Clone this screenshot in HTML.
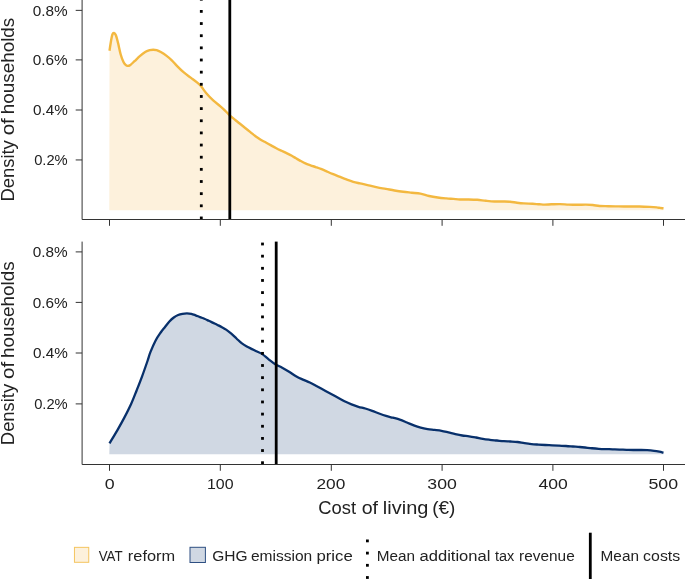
<!DOCTYPE html>
<html><head><meta charset="utf-8"><title>chart</title>
<style>
html,body{margin:0;padding:0;background:#fff;}
body{width:685px;height:579px;overflow:hidden;font-family:"Liberation Sans",sans-serif;}
svg{display:block;font-family:"Liberation Sans",sans-serif;will-change:transform;}
</style></head><body>
<svg width="685" height="579" viewBox="0 0 685 579">
<rect width="685" height="579" fill="#ffffff"/>
<path d="M109.50 50.70 C109.76 49.03 110.57 43.40 111.05 40.70 C111.53 38.00 111.92 35.78 112.40 34.50 C112.88 33.22 113.37 32.88 113.95 33.00 C114.53 33.12 115.23 33.57 115.90 35.20 C116.58 36.83 117.20 39.58 118.00 42.80 C118.80 46.02 119.78 51.28 120.70 54.50 C121.62 57.72 122.68 60.37 123.50 62.10 C124.32 63.83 124.92 64.27 125.60 64.90 C126.28 65.53 126.80 65.90 127.60 65.90 C128.40 65.90 129.25 65.68 130.40 64.90 C131.55 64.12 132.88 62.70 134.50 61.20 C136.12 59.70 138.25 57.47 140.10 55.90 C141.95 54.33 144.00 52.77 145.60 51.80 C147.20 50.83 148.43 50.45 149.70 50.10 C150.97 49.75 152.05 49.70 153.20 49.70 C154.35 49.70 155.33 49.71 156.60 50.10 C157.87 50.49 159.18 51.13 160.80 52.05 C162.42 52.97 164.47 54.23 166.30 55.60 C168.13 56.98 170.03 58.58 171.80 60.30 C173.57 62.02 174.90 63.88 176.90 65.90 C178.90 67.93 181.50 70.50 183.80 72.45 C186.10 74.40 188.40 75.88 190.70 77.60 C193.00 79.32 195.87 81.35 197.60 82.80 C199.33 84.25 199.65 84.57 201.10 86.30 C202.55 88.03 204.28 90.85 206.30 93.20 C208.32 95.55 210.90 98.25 213.20 100.40 C215.50 102.55 218.08 104.37 220.10 106.10 C222.12 107.83 223.72 109.27 225.30 110.80 C226.88 112.33 227.88 113.73 229.60 115.30 C231.32 116.87 233.87 118.78 235.60 120.20 C237.33 121.62 238.40 122.51 240.00 123.80 C241.60 125.09 243.47 126.57 245.20 127.95 C246.93 129.33 248.68 130.72 250.40 132.10 C252.12 133.47 253.78 134.93 255.50 136.20 C257.22 137.47 258.97 138.65 260.70 139.70 C262.43 140.75 264.17 141.55 265.90 142.50 C267.63 143.45 269.37 144.45 271.10 145.40 C272.83 146.35 274.57 147.31 276.30 148.20 C278.03 149.09 279.78 149.92 281.50 150.75 C283.22 151.58 284.88 152.36 286.60 153.20 C288.32 154.04 290.23 154.95 291.80 155.80 C293.37 156.65 294.63 157.50 296.00 158.30 C297.37 159.10 298.43 159.75 300.00 160.60 C301.57 161.45 303.65 162.62 305.40 163.40 C307.15 164.18 308.78 164.69 310.50 165.30 C312.22 165.91 313.97 166.45 315.70 167.05 C317.43 167.65 319.25 168.26 320.90 168.90 C322.55 169.54 323.67 170.07 325.60 170.90 C327.53 171.73 330.20 172.94 332.50 173.90 C334.80 174.86 337.08 175.73 339.40 176.65 C341.72 177.57 344.08 178.54 346.40 179.40 C348.72 180.26 351.03 181.13 353.30 181.80 C355.57 182.47 357.45 182.82 360.00 183.40 C362.55 183.98 365.72 184.63 368.60 185.30 C371.48 185.97 374.42 186.80 377.30 187.40 C380.18 188.00 383.03 188.38 385.90 188.90 C388.77 189.42 391.62 190.02 394.50 190.50 C397.38 190.98 400.32 191.43 403.20 191.80 C406.08 192.17 408.93 192.40 411.80 192.70 C414.67 193.00 417.52 193.05 420.40 193.60 C423.28 194.15 426.22 195.35 429.10 196.00 C431.98 196.65 434.82 197.10 437.70 197.50 C440.58 197.90 443.80 198.17 446.40 198.40 C449.00 198.63 451.03 198.73 453.30 198.90 C455.57 199.07 457.45 199.36 460.00 199.45 C462.55 199.54 465.72 199.39 468.60 199.45 C471.48 199.51 474.42 199.58 477.30 199.80 C480.18 200.03 483.03 200.52 485.90 200.80 C488.77 201.08 491.62 201.38 494.50 201.50 C497.38 201.62 500.60 201.47 503.20 201.50 C505.80 201.53 507.80 201.50 510.10 201.70 C512.40 201.90 514.70 202.42 517.00 202.70 C519.30 202.98 521.32 203.22 523.90 203.40 C526.48 203.58 529.92 203.65 532.50 203.80 C535.08 203.95 537.38 204.17 539.40 204.30 C541.42 204.43 542.58 204.60 544.60 204.60 C546.62 204.60 548.93 204.38 551.50 204.30 C554.07 204.22 557.15 204.05 560.00 204.10 C562.85 204.15 565.72 204.48 568.60 204.60 C571.48 204.72 574.42 204.80 577.30 204.80 C580.18 204.80 583.32 204.57 585.90 204.60 C588.48 204.63 590.50 204.77 592.80 205.00 C595.10 205.23 597.10 205.80 599.70 206.00 C602.30 206.20 605.23 206.13 608.40 206.20 C611.57 206.27 615.25 206.35 618.70 206.40 C622.15 206.45 625.65 206.48 629.10 206.50 C632.55 206.52 635.95 206.43 639.40 206.50 C642.85 206.57 646.92 206.75 649.80 206.90 C652.68 207.05 655.00 207.23 656.70 207.40 C658.40 207.57 658.87 207.75 660.00 207.90 C661.13 208.05 662.92 208.23 663.50 208.30 L663.50 210.20 L109.30 210.20 Z" fill="#FDF1DC" stroke="none"/>
<path d="M109.50 50.70 C109.76 49.03 110.57 43.40 111.05 40.70 C111.53 38.00 111.92 35.78 112.40 34.50 C112.88 33.22 113.37 32.88 113.95 33.00 C114.53 33.12 115.23 33.57 115.90 35.20 C116.58 36.83 117.20 39.58 118.00 42.80 C118.80 46.02 119.78 51.28 120.70 54.50 C121.62 57.72 122.68 60.37 123.50 62.10 C124.32 63.83 124.92 64.27 125.60 64.90 C126.28 65.53 126.80 65.90 127.60 65.90 C128.40 65.90 129.25 65.68 130.40 64.90 C131.55 64.12 132.88 62.70 134.50 61.20 C136.12 59.70 138.25 57.47 140.10 55.90 C141.95 54.33 144.00 52.77 145.60 51.80 C147.20 50.83 148.43 50.45 149.70 50.10 C150.97 49.75 152.05 49.70 153.20 49.70 C154.35 49.70 155.33 49.71 156.60 50.10 C157.87 50.49 159.18 51.13 160.80 52.05 C162.42 52.97 164.47 54.23 166.30 55.60 C168.13 56.98 170.03 58.58 171.80 60.30 C173.57 62.02 174.90 63.88 176.90 65.90 C178.90 67.93 181.50 70.50 183.80 72.45 C186.10 74.40 188.40 75.88 190.70 77.60 C193.00 79.32 195.87 81.35 197.60 82.80 C199.33 84.25 199.65 84.57 201.10 86.30 C202.55 88.03 204.28 90.85 206.30 93.20 C208.32 95.55 210.90 98.25 213.20 100.40 C215.50 102.55 218.08 104.37 220.10 106.10 C222.12 107.83 223.72 109.27 225.30 110.80 C226.88 112.33 227.88 113.73 229.60 115.30 C231.32 116.87 233.87 118.78 235.60 120.20 C237.33 121.62 238.40 122.51 240.00 123.80 C241.60 125.09 243.47 126.57 245.20 127.95 C246.93 129.33 248.68 130.72 250.40 132.10 C252.12 133.47 253.78 134.93 255.50 136.20 C257.22 137.47 258.97 138.65 260.70 139.70 C262.43 140.75 264.17 141.55 265.90 142.50 C267.63 143.45 269.37 144.45 271.10 145.40 C272.83 146.35 274.57 147.31 276.30 148.20 C278.03 149.09 279.78 149.92 281.50 150.75 C283.22 151.58 284.88 152.36 286.60 153.20 C288.32 154.04 290.23 154.95 291.80 155.80 C293.37 156.65 294.63 157.50 296.00 158.30 C297.37 159.10 298.43 159.75 300.00 160.60 C301.57 161.45 303.65 162.62 305.40 163.40 C307.15 164.18 308.78 164.69 310.50 165.30 C312.22 165.91 313.97 166.45 315.70 167.05 C317.43 167.65 319.25 168.26 320.90 168.90 C322.55 169.54 323.67 170.07 325.60 170.90 C327.53 171.73 330.20 172.94 332.50 173.90 C334.80 174.86 337.08 175.73 339.40 176.65 C341.72 177.57 344.08 178.54 346.40 179.40 C348.72 180.26 351.03 181.13 353.30 181.80 C355.57 182.47 357.45 182.82 360.00 183.40 C362.55 183.98 365.72 184.63 368.60 185.30 C371.48 185.97 374.42 186.80 377.30 187.40 C380.18 188.00 383.03 188.38 385.90 188.90 C388.77 189.42 391.62 190.02 394.50 190.50 C397.38 190.98 400.32 191.43 403.20 191.80 C406.08 192.17 408.93 192.40 411.80 192.70 C414.67 193.00 417.52 193.05 420.40 193.60 C423.28 194.15 426.22 195.35 429.10 196.00 C431.98 196.65 434.82 197.10 437.70 197.50 C440.58 197.90 443.80 198.17 446.40 198.40 C449.00 198.63 451.03 198.73 453.30 198.90 C455.57 199.07 457.45 199.36 460.00 199.45 C462.55 199.54 465.72 199.39 468.60 199.45 C471.48 199.51 474.42 199.58 477.30 199.80 C480.18 200.03 483.03 200.52 485.90 200.80 C488.77 201.08 491.62 201.38 494.50 201.50 C497.38 201.62 500.60 201.47 503.20 201.50 C505.80 201.53 507.80 201.50 510.10 201.70 C512.40 201.90 514.70 202.42 517.00 202.70 C519.30 202.98 521.32 203.22 523.90 203.40 C526.48 203.58 529.92 203.65 532.50 203.80 C535.08 203.95 537.38 204.17 539.40 204.30 C541.42 204.43 542.58 204.60 544.60 204.60 C546.62 204.60 548.93 204.38 551.50 204.30 C554.07 204.22 557.15 204.05 560.00 204.10 C562.85 204.15 565.72 204.48 568.60 204.60 C571.48 204.72 574.42 204.80 577.30 204.80 C580.18 204.80 583.32 204.57 585.90 204.60 C588.48 204.63 590.50 204.77 592.80 205.00 C595.10 205.23 597.10 205.80 599.70 206.00 C602.30 206.20 605.23 206.13 608.40 206.20 C611.57 206.27 615.25 206.35 618.70 206.40 C622.15 206.45 625.65 206.48 629.10 206.50 C632.55 206.52 635.95 206.43 639.40 206.50 C642.85 206.57 646.92 206.75 649.80 206.90 C652.68 207.05 655.00 207.23 656.70 207.40 C658.40 207.57 658.87 207.75 660.00 207.90 C661.13 208.05 662.92 208.23 663.50 208.30" fill="none" stroke="#F3B840" stroke-width="2.4" stroke-linejoin="round" stroke-linecap="butt"/>
<g fill="#000"><rect x="199.90" y="-2.15" width="2.80" height="2.80"/><rect x="199.90" y="10.00" width="2.80" height="2.80"/><rect x="199.90" y="22.15" width="2.80" height="2.80"/><rect x="199.90" y="34.30" width="2.80" height="2.80"/><rect x="199.90" y="46.45" width="2.80" height="2.80"/><rect x="199.90" y="58.60" width="2.80" height="2.80"/><rect x="199.90" y="70.75" width="2.80" height="2.80"/><rect x="199.90" y="82.90" width="2.80" height="2.80"/><rect x="199.90" y="95.05" width="2.80" height="2.80"/><rect x="199.90" y="107.20" width="2.80" height="2.80"/><rect x="199.90" y="119.35" width="2.80" height="2.80"/><rect x="199.90" y="131.50" width="2.80" height="2.80"/><rect x="199.90" y="143.65" width="2.80" height="2.80"/><rect x="199.90" y="155.80" width="2.80" height="2.80"/><rect x="199.90" y="167.95" width="2.80" height="2.80"/><rect x="199.90" y="180.10" width="2.80" height="2.80"/><rect x="199.90" y="192.25" width="2.80" height="2.80"/><rect x="199.90" y="204.40" width="2.80" height="2.80"/><rect x="199.90" y="216.55" width="2.80" height="2.80"/></g>
<line x1="229.8" x2="229.8" y1="-2" y2="219.5" stroke="#000" stroke-width="2.8"/>
<path d="M109.50 443.30 C110.80 441.13 114.85 434.53 117.30 430.30 C119.75 426.07 121.90 422.28 124.20 417.90 C126.50 413.52 129.03 408.57 131.10 404.00 C133.17 399.43 134.78 395.07 136.60 390.50 C138.42 385.93 140.18 381.52 142.00 376.60 C143.82 371.68 146.10 365.07 147.50 361.00 C148.90 356.93 149.07 355.58 150.40 352.20 C151.73 348.82 153.78 343.98 155.50 340.70 C157.22 337.42 159.12 334.78 160.70 332.50 C162.28 330.22 163.55 328.83 165.00 327.00 C166.45 325.17 167.93 323.08 169.40 321.50 C170.87 319.92 172.35 318.57 173.80 317.50 C175.25 316.43 176.65 315.67 178.10 315.05 C179.55 314.43 181.03 314.08 182.50 313.80 C183.97 313.52 185.43 313.40 186.90 313.40 C188.37 313.40 189.85 313.48 191.30 313.80 C192.75 314.12 194.15 314.75 195.60 315.30 C197.05 315.85 198.53 316.52 200.00 317.10 C201.47 317.68 202.93 318.18 204.40 318.80 C205.87 319.42 207.33 320.12 208.80 320.80 C210.27 321.48 211.75 322.21 213.20 322.90 C214.65 323.59 216.05 324.24 217.50 324.95 C218.95 325.66 220.47 326.38 221.90 327.15 C223.33 327.92 224.53 328.53 226.10 329.60 C227.67 330.68 229.57 332.12 231.30 333.60 C233.03 335.08 234.78 336.90 236.50 338.50 C238.22 340.10 239.88 341.87 241.60 343.20 C243.32 344.53 245.07 345.52 246.80 346.50 C248.53 347.48 250.42 348.32 252.00 349.10 C253.58 349.88 254.58 350.37 256.30 351.20 C258.02 352.03 260.28 352.78 262.30 354.10 C264.32 355.42 266.23 357.42 268.40 359.10 C270.57 360.78 273.00 362.77 275.30 364.20 C277.60 365.63 279.90 366.45 282.20 367.70 C284.50 368.95 286.80 370.28 289.10 371.70 C291.40 373.12 293.70 374.88 296.00 376.20 C298.30 377.52 300.60 378.55 302.90 379.60 C305.20 380.65 307.47 381.38 309.80 382.50 C312.13 383.62 314.57 385.05 316.90 386.30 C319.23 387.55 321.50 388.77 323.80 390.00 C326.10 391.23 328.40 392.45 330.70 393.70 C333.00 394.95 335.30 396.23 337.60 397.50 C339.90 398.77 342.18 400.15 344.50 401.30 C346.82 402.45 349.18 403.48 351.50 404.40 C353.82 405.32 356.10 406.12 358.40 406.80 C360.70 407.48 363.00 407.83 365.30 408.50 C367.60 409.17 369.90 409.97 372.20 410.80 C374.50 411.63 376.80 412.65 379.10 413.50 C381.40 414.35 383.70 415.20 386.00 415.90 C388.30 416.60 390.60 417.08 392.90 417.70 C395.20 418.32 397.47 418.80 399.80 419.60 C402.13 420.40 404.57 421.52 406.90 422.50 C409.23 423.48 411.50 424.58 413.80 425.45 C416.10 426.32 418.40 427.09 420.70 427.70 C423.00 428.31 425.30 428.73 427.60 429.10 C429.90 429.47 432.18 429.62 434.50 429.90 C436.82 430.18 439.18 430.38 441.50 430.80 C443.82 431.22 446.10 431.85 448.40 432.40 C450.70 432.95 453.00 433.58 455.30 434.10 C457.60 434.62 459.90 435.13 462.20 435.50 C464.50 435.87 466.80 435.97 469.10 436.30 C471.40 436.63 473.70 437.07 476.00 437.50 C478.30 437.93 480.60 438.52 482.90 438.90 C485.20 439.28 487.47 439.53 489.80 439.80 C492.13 440.07 494.57 440.27 496.90 440.50 C499.23 440.73 501.50 441.03 503.80 441.20 C506.10 441.37 508.40 441.37 510.70 441.50 C513.00 441.63 515.30 441.72 517.60 442.00 C519.90 442.28 522.18 442.85 524.50 443.20 C526.82 443.55 529.18 443.87 531.50 444.10 C533.82 444.33 536.10 444.45 538.40 444.60 C540.70 444.75 543.00 444.88 545.30 445.00 C547.60 445.12 549.90 445.19 552.20 445.30 C554.50 445.41 556.80 445.53 559.10 445.65 C561.40 445.77 563.70 445.86 566.00 446.00 C568.30 446.14 570.60 446.33 572.90 446.50 C575.20 446.67 577.78 446.83 579.80 447.00 C581.82 447.17 582.98 447.29 585.00 447.50 C587.02 447.71 589.60 448.03 591.90 448.25 C594.20 448.47 596.50 448.66 598.80 448.80 C601.10 448.94 603.40 449.02 605.70 449.10 C608.00 449.18 610.30 449.22 612.60 449.30 C614.90 449.38 617.18 449.52 619.50 449.60 C621.82 449.68 624.18 449.73 626.50 449.80 C628.82 449.87 631.10 449.97 633.40 450.00 C635.70 450.03 638.00 449.98 640.30 450.00 C642.60 450.02 644.90 450.02 647.20 450.15 C649.50 450.28 652.08 450.54 654.10 450.80 C656.12 451.06 657.73 451.38 659.30 451.70 C660.87 452.02 662.80 452.53 663.50 452.70 L663.50 454.30 L109.30 454.30 Z" fill="#D0D8E3" stroke="none"/>
<path d="M109.50 443.30 C110.80 441.13 114.85 434.53 117.30 430.30 C119.75 426.07 121.90 422.28 124.20 417.90 C126.50 413.52 129.03 408.57 131.10 404.00 C133.17 399.43 134.78 395.07 136.60 390.50 C138.42 385.93 140.18 381.52 142.00 376.60 C143.82 371.68 146.10 365.07 147.50 361.00 C148.90 356.93 149.07 355.58 150.40 352.20 C151.73 348.82 153.78 343.98 155.50 340.70 C157.22 337.42 159.12 334.78 160.70 332.50 C162.28 330.22 163.55 328.83 165.00 327.00 C166.45 325.17 167.93 323.08 169.40 321.50 C170.87 319.92 172.35 318.57 173.80 317.50 C175.25 316.43 176.65 315.67 178.10 315.05 C179.55 314.43 181.03 314.08 182.50 313.80 C183.97 313.52 185.43 313.40 186.90 313.40 C188.37 313.40 189.85 313.48 191.30 313.80 C192.75 314.12 194.15 314.75 195.60 315.30 C197.05 315.85 198.53 316.52 200.00 317.10 C201.47 317.68 202.93 318.18 204.40 318.80 C205.87 319.42 207.33 320.12 208.80 320.80 C210.27 321.48 211.75 322.21 213.20 322.90 C214.65 323.59 216.05 324.24 217.50 324.95 C218.95 325.66 220.47 326.38 221.90 327.15 C223.33 327.92 224.53 328.53 226.10 329.60 C227.67 330.68 229.57 332.12 231.30 333.60 C233.03 335.08 234.78 336.90 236.50 338.50 C238.22 340.10 239.88 341.87 241.60 343.20 C243.32 344.53 245.07 345.52 246.80 346.50 C248.53 347.48 250.42 348.32 252.00 349.10 C253.58 349.88 254.58 350.37 256.30 351.20 C258.02 352.03 260.28 352.78 262.30 354.10 C264.32 355.42 266.23 357.42 268.40 359.10 C270.57 360.78 273.00 362.77 275.30 364.20 C277.60 365.63 279.90 366.45 282.20 367.70 C284.50 368.95 286.80 370.28 289.10 371.70 C291.40 373.12 293.70 374.88 296.00 376.20 C298.30 377.52 300.60 378.55 302.90 379.60 C305.20 380.65 307.47 381.38 309.80 382.50 C312.13 383.62 314.57 385.05 316.90 386.30 C319.23 387.55 321.50 388.77 323.80 390.00 C326.10 391.23 328.40 392.45 330.70 393.70 C333.00 394.95 335.30 396.23 337.60 397.50 C339.90 398.77 342.18 400.15 344.50 401.30 C346.82 402.45 349.18 403.48 351.50 404.40 C353.82 405.32 356.10 406.12 358.40 406.80 C360.70 407.48 363.00 407.83 365.30 408.50 C367.60 409.17 369.90 409.97 372.20 410.80 C374.50 411.63 376.80 412.65 379.10 413.50 C381.40 414.35 383.70 415.20 386.00 415.90 C388.30 416.60 390.60 417.08 392.90 417.70 C395.20 418.32 397.47 418.80 399.80 419.60 C402.13 420.40 404.57 421.52 406.90 422.50 C409.23 423.48 411.50 424.58 413.80 425.45 C416.10 426.32 418.40 427.09 420.70 427.70 C423.00 428.31 425.30 428.73 427.60 429.10 C429.90 429.47 432.18 429.62 434.50 429.90 C436.82 430.18 439.18 430.38 441.50 430.80 C443.82 431.22 446.10 431.85 448.40 432.40 C450.70 432.95 453.00 433.58 455.30 434.10 C457.60 434.62 459.90 435.13 462.20 435.50 C464.50 435.87 466.80 435.97 469.10 436.30 C471.40 436.63 473.70 437.07 476.00 437.50 C478.30 437.93 480.60 438.52 482.90 438.90 C485.20 439.28 487.47 439.53 489.80 439.80 C492.13 440.07 494.57 440.27 496.90 440.50 C499.23 440.73 501.50 441.03 503.80 441.20 C506.10 441.37 508.40 441.37 510.70 441.50 C513.00 441.63 515.30 441.72 517.60 442.00 C519.90 442.28 522.18 442.85 524.50 443.20 C526.82 443.55 529.18 443.87 531.50 444.10 C533.82 444.33 536.10 444.45 538.40 444.60 C540.70 444.75 543.00 444.88 545.30 445.00 C547.60 445.12 549.90 445.19 552.20 445.30 C554.50 445.41 556.80 445.53 559.10 445.65 C561.40 445.77 563.70 445.86 566.00 446.00 C568.30 446.14 570.60 446.33 572.90 446.50 C575.20 446.67 577.78 446.83 579.80 447.00 C581.82 447.17 582.98 447.29 585.00 447.50 C587.02 447.71 589.60 448.03 591.90 448.25 C594.20 448.47 596.50 448.66 598.80 448.80 C601.10 448.94 603.40 449.02 605.70 449.10 C608.00 449.18 610.30 449.22 612.60 449.30 C614.90 449.38 617.18 449.52 619.50 449.60 C621.82 449.68 624.18 449.73 626.50 449.80 C628.82 449.87 631.10 449.97 633.40 450.00 C635.70 450.03 638.00 449.98 640.30 450.00 C642.60 450.02 644.90 450.02 647.20 450.15 C649.50 450.28 652.08 450.54 654.10 450.80 C656.12 451.06 657.73 451.38 659.30 451.70 C660.87 452.02 662.80 452.53 663.50 452.70" fill="none" stroke="#08306B" stroke-width="2.3" stroke-linejoin="round" stroke-linecap="butt"/>
<g fill="#000"><rect x="261.10" y="242.60" width="2.80" height="2.80"/><rect x="261.10" y="254.75" width="2.80" height="2.80"/><rect x="261.10" y="266.90" width="2.80" height="2.80"/><rect x="261.10" y="279.05" width="2.80" height="2.80"/><rect x="261.10" y="291.20" width="2.80" height="2.80"/><rect x="261.10" y="303.35" width="2.80" height="2.80"/><rect x="261.10" y="315.50" width="2.80" height="2.80"/><rect x="261.10" y="327.65" width="2.80" height="2.80"/><rect x="261.10" y="339.80" width="2.80" height="2.80"/><rect x="261.10" y="351.95" width="2.80" height="2.80"/><rect x="261.10" y="364.10" width="2.80" height="2.80"/><rect x="261.10" y="376.25" width="2.80" height="2.80"/><rect x="261.10" y="388.40" width="2.80" height="2.80"/><rect x="261.10" y="400.55" width="2.80" height="2.80"/><rect x="261.10" y="412.70" width="2.80" height="2.80"/><rect x="261.10" y="424.85" width="2.80" height="2.80"/><rect x="261.10" y="437.00" width="2.80" height="2.80"/><rect x="261.10" y="449.15" width="2.80" height="2.80"/><rect x="261.10" y="461.30" width="2.80" height="2.80"/></g>
<line x1="276.2" x2="276.2" y1="241.6" y2="464.5" stroke="#000" stroke-width="2.8"/>
<g stroke="#333333" stroke-width="1.0" fill="none">
<path d="M82.1 -2 V219.5 H686"/>
<path d="M82.1 241.6 V464.5 H686"/>
<line x1="109.50" x2="109.50" y1="219.5" y2="225.8"/>
<line x1="109.50" x2="109.50" y1="464.5" y2="470.8"/>
<line x1="220.30" x2="220.30" y1="219.5" y2="225.8"/>
<line x1="220.30" x2="220.30" y1="464.5" y2="470.8"/>
<line x1="331.30" x2="331.30" y1="219.5" y2="225.8"/>
<line x1="331.30" x2="331.30" y1="464.5" y2="470.8"/>
<line x1="442.10" x2="442.10" y1="219.5" y2="225.8"/>
<line x1="442.10" x2="442.10" y1="464.5" y2="470.8"/>
<line x1="552.90" x2="552.90" y1="219.5" y2="225.8"/>
<line x1="552.90" x2="552.90" y1="464.5" y2="470.8"/>
<line x1="663.50" x2="663.50" y1="219.5" y2="225.8"/>
<line x1="663.50" x2="663.50" y1="464.5" y2="470.8"/>
<line x1="75.7" x2="82.1" y1="10.36" y2="10.36"/>
<line x1="75.7" x2="82.1" y1="59.90" y2="59.90"/>
<line x1="75.7" x2="82.1" y1="110.00" y2="110.00"/>
<line x1="75.7" x2="82.1" y1="159.95" y2="159.95"/>
<line x1="75.7" x2="82.1" y1="251.90" y2="251.90"/>
<line x1="75.7" x2="82.1" y1="302.40" y2="302.40"/>
<line x1="75.7" x2="82.1" y1="353.00" y2="353.00"/>
<line x1="75.7" x2="82.1" y1="403.90" y2="403.90"/>
</g>
<g fill="#222222">
<text x="32.82" y="15.56" font-size="15.2" textLength="34.94" lengthAdjust="spacingAndGlyphs">0.8%</text>
<text x="32.82" y="65.10" font-size="15.2" textLength="34.94" lengthAdjust="spacingAndGlyphs">0.6%</text>
<text x="32.92" y="115.20" font-size="15.2" textLength="34.83" lengthAdjust="spacingAndGlyphs">0.4%</text>
<text x="34.14" y="165.15" font-size="15.2" textLength="33.60" lengthAdjust="spacingAndGlyphs">0.2%</text>
<text x="32.82" y="257.10" font-size="15.2" textLength="34.94" lengthAdjust="spacingAndGlyphs">0.8%</text>
<text x="32.82" y="307.60" font-size="15.2" textLength="34.94" lengthAdjust="spacingAndGlyphs">0.6%</text>
<text x="32.92" y="358.20" font-size="15.2" textLength="34.83" lengthAdjust="spacingAndGlyphs">0.4%</text>
<text x="34.14" y="409.10" font-size="15.2" textLength="33.60" lengthAdjust="spacingAndGlyphs">0.2%</text>
<text x="104.74" y="489.15" font-size="15.2" textLength="9.90" lengthAdjust="spacingAndGlyphs">0</text>
<text x="207.00" y="489.15" font-size="15.2" textLength="26.59" lengthAdjust="spacingAndGlyphs">100</text>
<text x="316.49" y="489.15" font-size="15.2" textLength="28.84" lengthAdjust="spacingAndGlyphs">200</text>
<text x="427.35" y="489.15" font-size="15.2" textLength="29.49" lengthAdjust="spacingAndGlyphs">300</text>
<text x="538.53" y="489.15" font-size="15.2" textLength="29.31" lengthAdjust="spacingAndGlyphs">400</text>
<text x="648.45" y="489.15" font-size="15.2" textLength="29.60" lengthAdjust="spacingAndGlyphs">500</text>
<text x="318.24" y="514.30" font-size="19" textLength="37.80" lengthAdjust="spacingAndGlyphs">Cost</text>
<text x="361.69" y="514.30" font-size="19" textLength="16.35" lengthAdjust="spacingAndGlyphs">of</text>
<text x="382.85" y="514.30" font-size="19" textLength="45.57" lengthAdjust="spacingAndGlyphs">living</text>
<text x="432.21" y="514.30" font-size="19" textLength="23.17" lengthAdjust="spacingAndGlyphs">(€)</text>
<text x="-0.83" y="0.00" font-size="19" textLength="61.23" lengthAdjust="spacingAndGlyphs" transform="translate(14.00 200.60) rotate(-90)">Density</text>
<text x="65.26" y="0.00" font-size="19" textLength="17.17" lengthAdjust="spacingAndGlyphs" transform="translate(14.00 200.60) rotate(-90)">of</text>
<text x="86.42" y="0.00" font-size="19" textLength="96.47" lengthAdjust="spacingAndGlyphs" transform="translate(14.00 200.60) rotate(-90)">households</text>
<text x="-0.83" y="0.00" font-size="19" textLength="61.23" lengthAdjust="spacingAndGlyphs" transform="translate(14.00 444.30) rotate(-90)">Density</text>
<text x="65.26" y="0.00" font-size="19" textLength="17.17" lengthAdjust="spacingAndGlyphs" transform="translate(14.00 444.30) rotate(-90)">of</text>
<text x="86.42" y="0.00" font-size="19" textLength="96.47" lengthAdjust="spacingAndGlyphs" transform="translate(14.00 444.30) rotate(-90)">households</text>
<text x="98.65" y="560.60" font-size="15.3" textLength="23.88" lengthAdjust="spacingAndGlyphs">VAT</text>
<text x="127.88" y="560.60" font-size="15.3" textLength="47.27" lengthAdjust="spacingAndGlyphs">reform</text>
<text x="212.17" y="560.60" font-size="15.3" textLength="35.39" lengthAdjust="spacingAndGlyphs">GHG</text>
<text x="250.91" y="560.60" font-size="15.3" textLength="61.36" lengthAdjust="spacingAndGlyphs">emission</text>
<text x="316.45" y="560.60" font-size="15.3" textLength="36.33" lengthAdjust="spacingAndGlyphs">price</text>
<text x="376.81" y="560.60" font-size="15.3" textLength="38.25" lengthAdjust="spacingAndGlyphs">Mean</text>
<text x="419.58" y="560.60" font-size="15.3" textLength="70.81" lengthAdjust="spacingAndGlyphs">additional</text>
<text x="494.90" y="560.60" font-size="15.3" textLength="19.30" lengthAdjust="spacingAndGlyphs">tax</text>
<text x="519.14" y="560.60" font-size="15.3" textLength="55.58" lengthAdjust="spacingAndGlyphs">revenue</text>
<text x="600.60" y="560.60" font-size="15.3" textLength="38.36" lengthAdjust="spacingAndGlyphs">Mean</text>
<text x="643.10" y="560.60" font-size="15.3" textLength="37.09" lengthAdjust="spacingAndGlyphs">costs</text>
</g>
<rect x="74.45" y="547.35" width="14.3" height="14.95" fill="#FDF1DC" stroke="#F4C560" stroke-width="1"/>
<rect x="190.0" y="547.3" width="15.4" height="15.2" fill="#D0D8E3" stroke="#2E4F82" stroke-width="1"/>
<g fill="#000"><rect x="366.00" y="539.50" width="2.80" height="2.80"/><rect x="366.00" y="551.70" width="2.80" height="2.80"/><rect x="366.00" y="563.90" width="2.80" height="2.80"/><rect x="366.00" y="576.10" width="2.80" height="2.80"/></g>
<line x1="590.3" x2="590.3" y1="532.7" y2="580" stroke="#000" stroke-width="2.8"/>
</svg></body></html>
